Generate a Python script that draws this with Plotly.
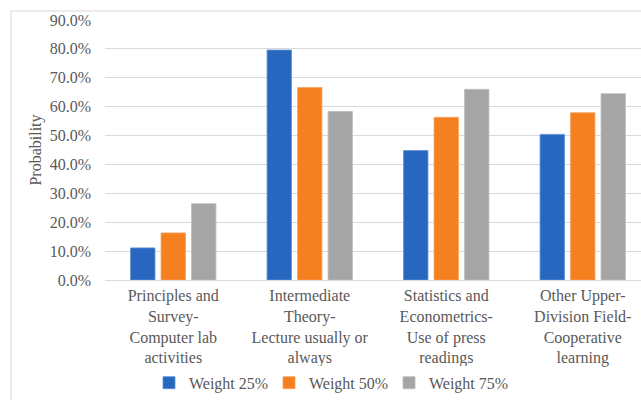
import plotly.graph_objects as go

categories = [
    "Principles and<br>Survey-<br>Computer lab<br>activities",
    "Intermediate<br>Theory-<br>Lecture usually or<br>always",
    "Statistics and<br>Econometrics-<br>Use of press<br>readings",
    "Other Upper-<br>Division Field-<br>Cooperative<br>learning",
]
series_names = ["Weight 25%", "Weight 50%", "Weight 75%"]
weight_25 = [0.111, 0.796, 0.448, 0.504]
weight_50 = [0.163, 0.666, 0.563, 0.579]
weight_75 = [0.264, 0.583, 0.660, 0.645]
colors = ["#2767C0", "#F5801F", "#A5A5A5"]
outline = ["#5B8FD6", "#F8A060", "#BDBDBD"]

FONT = "Liberation Serif, Times New Roman, serif"
TXT = "#595959"

fig = go.Figure()
for name, vals, c, oc in zip(series_names, [weight_25, weight_50, weight_75], colors, outline):
    fig.add_trace(go.Bar(
        x=categories, y=vals, name=name,
        marker=dict(color=c, line=dict(color=oc, width=0.8)),
    ))

L, T, B = 105, 20, 120
W, H = 641, 400
pw = W - L
ph = H - T - B
cat_w = 136.5

fig.update_layout(
    width=W, height=H,
    margin=dict(l=L, r=0, t=T, b=B),
    paper_bgcolor="white", plot_bgcolor="white",
    barmode="group", bargap=0.33, bargroupgap=0.2,
    font=dict(family=FONT, size=16, color=TXT),
    showlegend=True,
    legend=dict(orientation="h", x=(329 - L) / pw, xanchor="center",
                y=-0.33, yanchor="top", font=dict(family=FONT, size=16, color=TXT),
                itemwidth=30, traceorder="normal", entrywidth=75, entrywidthmode="pixels"),
    xaxis=dict(range=[-0.5, -0.5 + pw / cat_w], showgrid=False, showline=False,
               ticks="", ticklabelstandoff=4,
               tickfont=dict(family=FONT, size=16, color=TXT)),
    yaxis=dict(range=[0, 0.9], dtick=0.1, tickformat=".1%", showgrid=True,
               gridcolor="#D9D9D9", gridwidth=1, zeroline=True, zerolinecolor="#D9D9D9",
               zerolinewidth=1, showline=False, ticks="", ticklabelstandoff=13,
               tickfont=dict(family=FONT, size=16, color=TXT),
               title=dict(text="Probability", font=dict(family=FONT, size=16, color=TXT), standoff=4)),
    shapes=[dict(type="rect", xref="paper", yref="paper",
                 x0=(11 - L) / pw, x1=(W + 20 - L) / pw,
                 y0=(H - B - 440) / ph, y1=(H - B - 11) / ph,
                 line=dict(color="#D9D9D9", width=1), fillcolor="rgba(0,0,0,0)", layer="below")],
)

fig.write_html("out.html")
